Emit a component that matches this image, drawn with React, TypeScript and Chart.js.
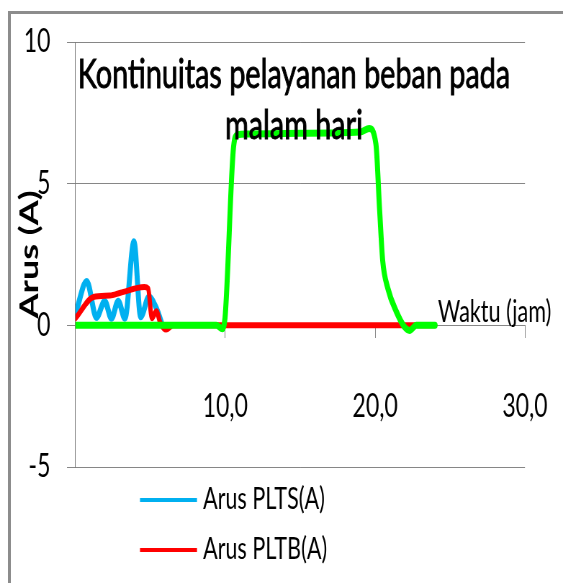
import React, { useEffect, useRef } from "react";
import { Chart, registerables } from "chart.js";

Chart.register(...registerables);

// ---- data (time in hours, current in A) ----
const PLTS_TIME = [0, 0.75, 1.4, 1.95, 2.4, 2.85, 3.3, 3.9, 4.35, 4.9, 5.4, 5.8];
const PLTS_ARUS = [0.4, 1.55, 0.28, 0.85, 0.25, 0.85, 0.25, 2.95, 0.3, 1.0, 0.6, 0];

const PLTB_TIME = [0, 1.2, 2.3, 3.0, 4.6, 4.85, 5.1, 5.4, 5.65, 6.05, 6.5, 10, 22, 24];
const PLTB_ARUS = [0.25, 1.0, 1.05, 1.15, 1.35, 1.3, 0.25, 0.5, 0.1, -0.15, 0, 0, 0, 0];

const BEBAN_TIME = [0, 9.4, 9.8, 10.0, 10.55, 10.8, 11.5, 15, 19.0, 19.6, 20.05, 20.3, 20.5, 20.85, 21.4, 21.95, 22.3, 22.75, 24];
const BEBAN_ARUS = [0, 0, -0.12, 0.4, 6.3, 6.72, 6.75, 6.78, 6.82, 6.95, 6.4, 4.05, 2.3, 1.3, 0.5, -0.05, -0.18, 0, 0];

const SERIES_LABELS = ["Arus PLTS(A)", "Arus PLTB(A)", "Arus Beban(A)"];
const SERIES_COLORS = ["#00B0F0", "#FF0000", "#00FF00"];

const X_TICK_VALUES = [0, 10, 20, 30];
const X_TICK_LABELS = ["", "10,0", "20,0", "30,0"];
const Y_TICK_VALUES = [-5, 0, 5, 10];
const Y_TICK_LABELS = ["-5", "0", "5", "10"];

const TITLE_LINES = ["Kontinuitas pelayanan beban pada", "malam hari"];
const X_TITLE = "Waktu (jam)";
const Y_TITLE = "Arus (A)";

// ---- layout ----
const VIEW_W = 563;
const VIEW_H = 583;
const SQUEEZE = 0.72; // the reference is horizontally compressed
const CANVAS_W = Math.round(VIEW_W / SQUEEZE);
const sx = (d: number) => d / SQUEEZE;
const FONT = "Lato, 'Open Sans', sans-serif";

const zip = (xs: number[], ys: number[]) => xs.map((x, i) => ({ x, y: ys[i] }));

const overlayPlugin = {
  id: "overlay",
  afterDatasetsDraw(chart: any) {
    const ctx = chart.ctx as CanvasRenderingContext2D;
    ctx.save();
    ctx.fillStyle = "#000";
    ctx.strokeStyle = "#000";
    ctx.textBaseline = "alphabetic";
    // title inside plot
    ctx.font = `40px ${FONT}`;
    ctx.textAlign = "center";
    ctx.lineWidth = 0.9;
    TITLE_LINES.forEach((line, i) => {
      ctx.fillText(line, sx(294), 88 + i * 51);
      ctx.strokeText(line, sx(294), 88 + i * 51);
    });
    // x-axis title next to the axis line
    ctx.font = `30px ${FONT}`;
    ctx.textAlign = "left";
    const y0 = chart.scales.y.getPixelForValue(0);
    ctx.fillText(X_TITLE, sx(438), y0 - 3);
    // legend (first two series)
    ctx.font = `30px ${FONT}`;
    ctx.textBaseline = "middle";
    [0, 1].forEach((i) => {
      const ds = chart.data.datasets[i];
      const yy = 500 + i * 50;
      ctx.strokeStyle = ds.borderColor;
      ctx.lineWidth = 4;
      ctx.beginPath();
      ctx.moveTo(sx(140), yy);
      ctx.lineTo(sx(197), yy);
      ctx.stroke();
      ctx.fillText(ds.label, sx(203), yy - 1);
    });
    ctx.restore();
  },
};

export default function App() {
  const ref = useRef<HTMLCanvasElement>(null);

  useEffect(() => {
    const canvas = ref.current!;
    const chart = new Chart(canvas, {
      type: "line",
      data: {
        datasets: [
          {
            label: SERIES_LABELS[0],
            data: zip(PLTS_TIME, PLTS_ARUS),
            borderColor: SERIES_COLORS[0],
            borderWidth: 7,
            order: 2,
          },
          {
            label: SERIES_LABELS[1],
            data: zip(PLTB_TIME, PLTB_ARUS),
            borderColor: SERIES_COLORS[1],
            borderWidth: 6,
            order: 1,
          },
          {
            label: SERIES_LABELS[2],
            data: zip(BEBAN_TIME, BEBAN_ARUS),
            borderColor: SERIES_COLORS[2],
            borderWidth: 7,
            order: 0,
          },
        ],
      },
      options: {
        responsive: false,
        animation: false,
        devicePixelRatio: 1,
        layout: {
          padding: { left: 0, right: CANVAS_W - sx(525), top: 42, bottom: VIEW_H - 467 },
        },
        elements: {
          point: { radius: 0 },
          line: { cubicInterpolationMode: "monotone", fill: false, borderCapStyle: "round", borderJoinStyle: "round" },
        },
        plugins: {
          legend: { display: false },
          tooltip: { enabled: false },
        },
        scales: {
          x: {
            type: "linear",
            min: 0,
            max: 30,
            position: { y: 0 } as any,
            afterBuildTicks: (s: any) => {
              s.ticks = X_TICK_VALUES.map((v) => ({ value: v }));
            },
            afterFit: (s: any) => {
              s.paddingLeft = 0;
              s.paddingRight = 0;
            },
            ticks: {
              autoSkip: false,
              maxRotation: 0,
              padding: 50,
              color: "#000",
              font: { family: FONT, size: 32 },
              callback: (v: any) => X_TICK_LABELS[X_TICK_VALUES.indexOf(Number(v))] ?? "",
            },
            grid: { drawOnChartArea: false, drawTicks: true, tickLength: 12, color: "#868686" },
            border: { color: "#868686", width: 1 },
          },
          y: {
            type: "linear",
            min: -5,
            max: 10,
            afterBuildTicks: (s: any) => {
              s.ticks = Y_TICK_VALUES.map((v) => ({ value: v }));
            },
            afterFit: (s: any) => {
              s.width = sx(75.5);
              s.paddingTop = 0;
              s.paddingBottom = 0;
            },
            ticks: {
              padding: 23,
              color: "#000",
              font: { family: FONT, size: 32 },
              callback: (v: any) => Y_TICK_LABELS[Y_TICK_VALUES.indexOf(Number(v))] ?? "",
            },
            grid: { color: "#868686", tickLength: sx(8.5) },
            border: { color: "#7a7a7a", width: 1 },
            title: {
              display: true,
              text: Y_TITLE,
              color: "#000",
              font: { family: FONT, size: 36, weight: "bold" },
              padding: { top: 20, bottom: 0 },
            },
          },
        },
      },
      plugins: [overlayPlugin],
    } as any);
    return () => chart.destroy();
  }, []);

  return (
    <div
      style={{
        position: "fixed",
        left: 0,
        top: 0,
        width: VIEW_W,
        height: VIEW_H,
        overflow: "hidden",
        background: "#fff",
      }}
    >
      <div
        style={{
          position: "absolute",
          left: 8,
          top: 11,
          width: 700,
          height: 700,
          borderTop: "3px solid #8c8c8c",
          borderLeft: "3px solid #8c8c8c",
        }}
      />
      <canvas
        ref={ref}
        width={CANVAS_W}
        height={VIEW_H}
        style={{ position: "absolute", left: 0, top: 0, width: `${VIEW_W}px`, height: `${VIEW_H}px` }}
      />
    </div>
  );
}
